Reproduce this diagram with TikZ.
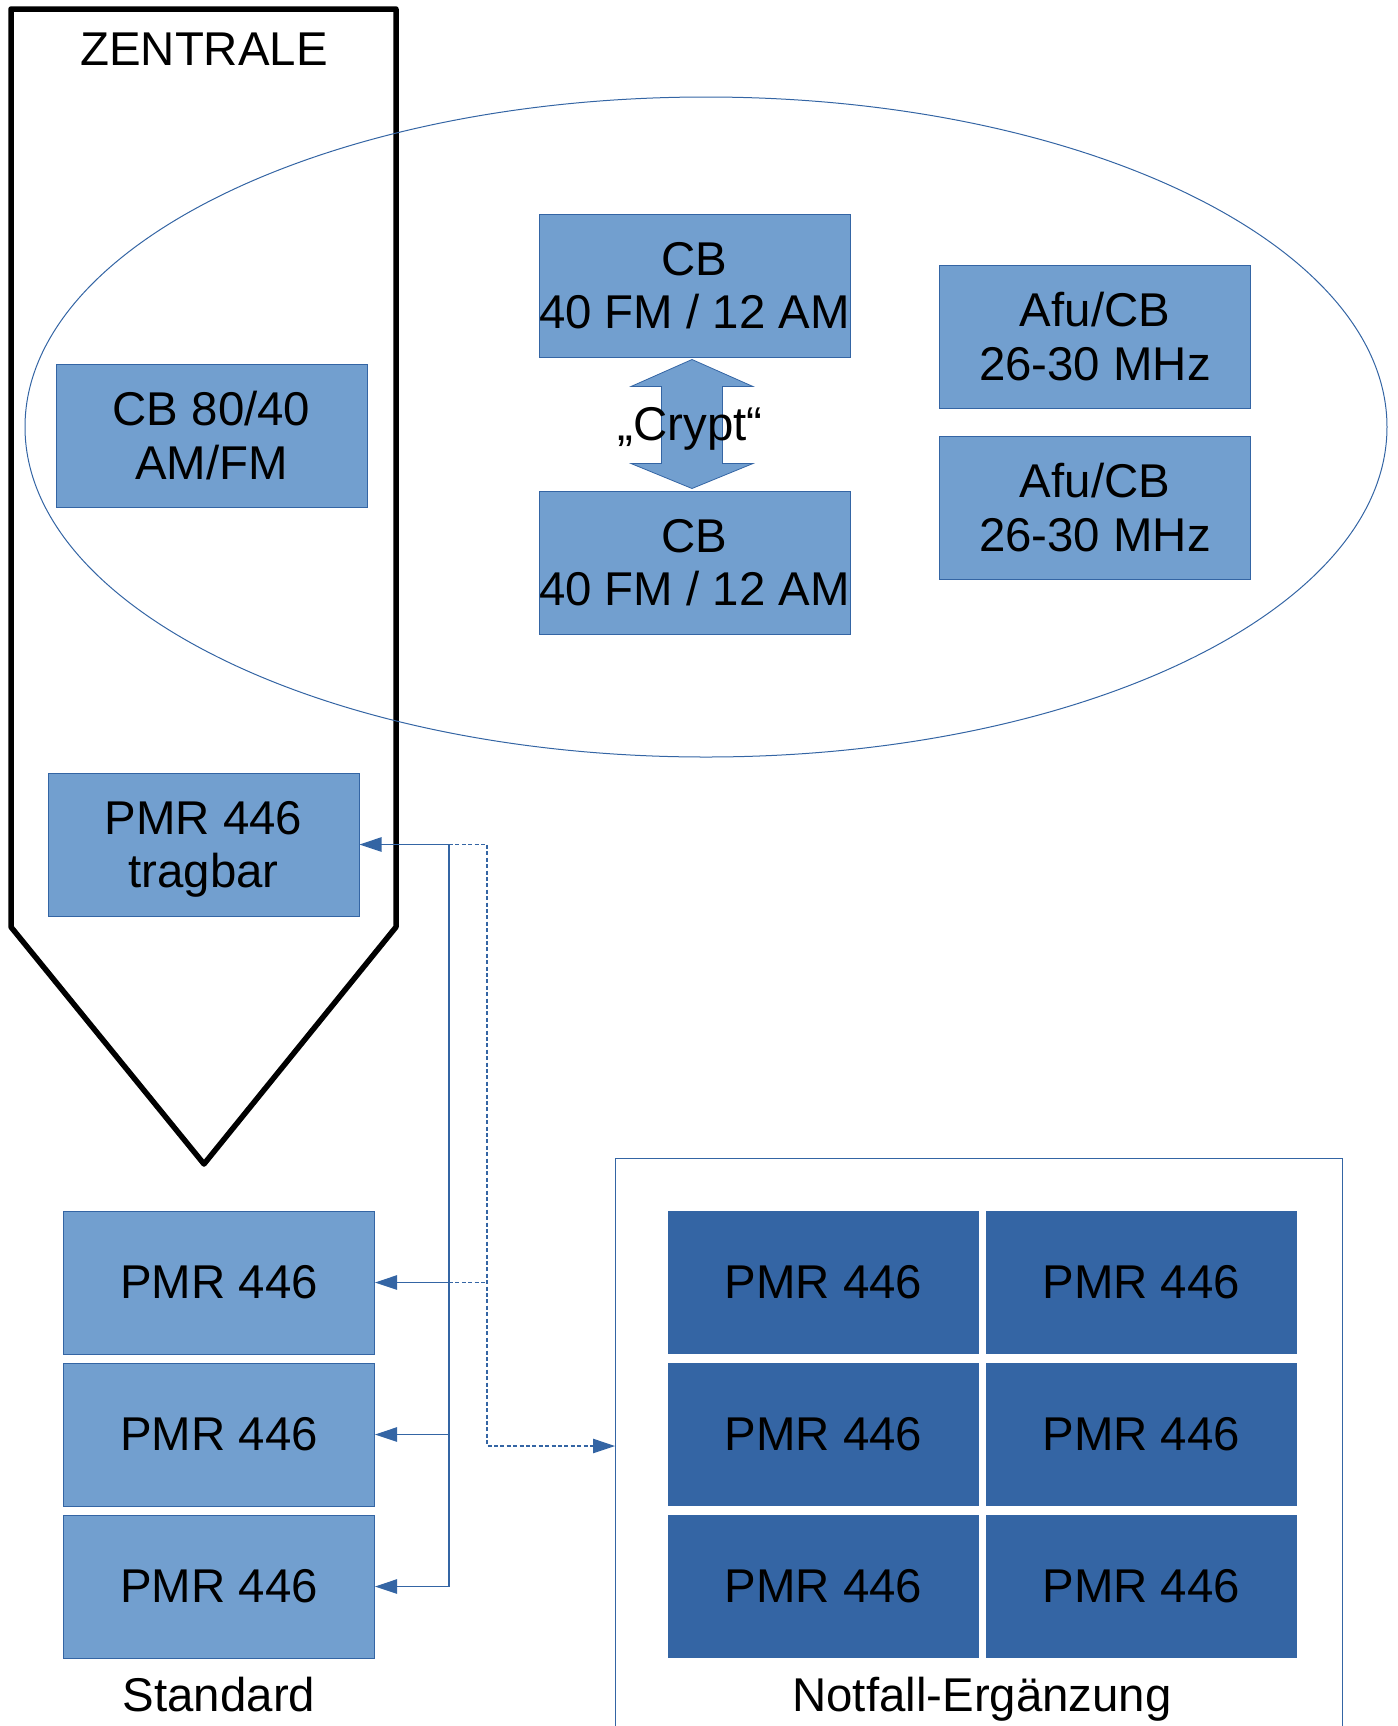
\documentclass[tikz,border=0pt]{standalone}
\usepackage{fontspec}
\setmainfont{Liberation Sans}
\usetikzlibrary{arrows.meta,positioning,shapes.geometric}
\definecolor{boxlight}{HTML}{729FCF}
\definecolor{boxdark}{HTML}{3465A4}
\definecolor{lineblue}{HTML}{3465A4}

\begin{document}
\begin{tikzpicture}[
  x=0.5pt, y=-0.5pt,
  node distance=4pt,
  font=\fontsize{23.7pt}{26.8pt}\selectfont,
  radio/.style={
    draw=lineblue, fill=boxlight, line width=0.5pt, align=center,
    minimum width=155.5pt, minimum height=71.5pt, inner sep=0pt},
  emerg/.style={
    fill=boxdark, align=center,
    minimum width=155.5pt, minimum height=71.5pt, inner sep=0pt},
  caption/.style={inner sep=0pt},
  bus/.style={draw=lineblue, line width=0.6pt},
  arr/.style={bus, -{Triangle[length=11pt,width=7.2pt]}},
  dsh/.style={bus, dash pattern=on 2pt off 1.2pt}
]
\useasboundingbox (0,0) rectangle (1398,1726);

% Zentrale
\draw[line width=2.75pt, line join=round]
  (11,9) -- (396,9) -- (396,927) -- (204,1164) -- (11,927) -- cycle;
\node[caption] (zentrale) at (204,49) {ZENTRALE};

% Funkbereich
\node[ellipse, draw=lineblue, line width=0.5pt, minimum width=681pt,
  minimum height=330pt, inner sep=0pt] (funk) at (706,427) {};

\node[radio] (cb8040) at (211.5,435.5) {CB 80/40\\AM/FM};
\node[radio] (cbA) at (694.5,285.5) {CB\\40 FM / 12 AM};
\node[radio] (cbB) at (694.5,562.5) {CB\\40 FM / 12 AM};
\node[radio] (afuA) at (1095,336.5) {Afu/CB\\26-30 MHz};
\node[radio, below=13.5pt of afuA] (afuB) {Afu/CB\\26-30 MHz};

% Crypt-Pfeil
\coordinate (crypt) at (692,424);
\begin{scope}[shift={(crypt)}]
  \filldraw[fill=boxlight, draw=lineblue, line width=0.4pt]
    (0,-64.5) -- (61,-37.5) -- (30.5,-37.5) -- (30.5,39.5) -- (61,39.5)
    -- (0,64.5) -- (-61,39.5) -- (-30.5,39.5) -- (-30.5,-37.5)
    -- (-61,-37.5) -- cycle;
\end{scope}
\node[caption, anchor=base] (cryptlabel) at (690,440) {„Crypt“};

% PMR
\node[radio, text depth=0pt] (tragbar) at (203.5,844.5) {PMR 446\\tragbar};

\node[radio] (std1) at (219,1282.5) {PMR 446};
\node[radio, below=of std1] (std2) {PMR 446};
\node[radio, below=of std2] (std3) {PMR 446};
\node[caption, anchor=base] (standard) at (219,1711) {Standard};

\draw[bus, line width=0.5pt] (615,1726) -- (615,1158) -- (1342,1158) -- (1342,1726);
\node[emerg] (n11) at (823.5,1282.5) {PMR 446};
\node[emerg, right=3pt of n11] (n12) {PMR 446};
\node[emerg, below=of n11] (n21) {PMR 446};
\node[emerg, right=3pt of n21] (n22) {PMR 446};
\node[emerg, below=of n21] (n31) {PMR 446};
\node[emerg, right=3pt of n31] (n32) {PMR 446};
\node[caption, anchor=base] (notfall) at (982,1711) {Notfall-Ergänzung};

% Verbindungen
\coordinate (busTop) at (449,844.5);
\coordinate (dashTop) at (487,844.5);
\coordinate (dashBot) at (487,1446);
\coordinate (frameIn) at (615,1446);

\draw[bus] (busTop) -- (busTop |- std3.east);
\draw[arr] (busTop) -- (tragbar.east);
\foreach \n in {std1, std2, std3}
  \draw[arr] (busTop |- \n.east) -- (\n.east);

\draw[dsh, -{Triangle[length=11pt,width=7.2pt]}]
  (busTop) -- (dashTop) -- (dashBot) -- (frameIn);
\draw[dsh] (busTop |- std1.east) -- (dashTop |- std1.east);

\end{tikzpicture}
\end{document}
